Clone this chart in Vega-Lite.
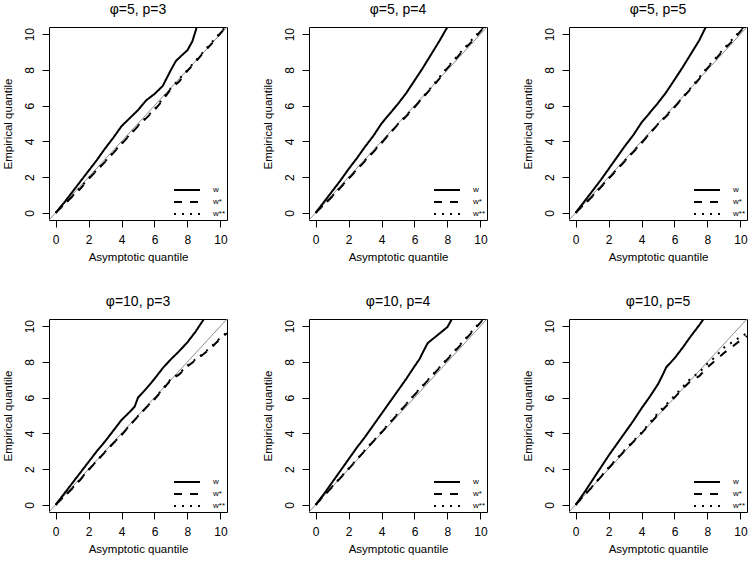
{
"$schema":"https://vega.github.io/schema/vega-lite/v6.json",
"padding":{"left":1,"top":2,"right":0,"bottom":0},
"datasets":{
"diag":[{"x":-0.4,"y":-0.4},{"x":10.4,"y":10.4}],
"q":[
{"p":"A","s":"w","x":0,"y":0},{"p":"A","s":"w","x":0.5,"y":0.55},{"p":"A","s":"w","x":1,"y":1.15},{"p":"A","s":"w","x":1.5,"y":1.75},{"p":"A","s":"w","x":2,"y":2.35},{"p":"A","s":"w","x":2.5,"y":2.95},{"p":"A","s":"w","x":3,"y":3.6},{"p":"A","s":"w","x":3.5,"y":4.2},{"p":"A","s":"w","x":4,"y":4.85},{"p":"A","s":"w","x":4.5,"y":5.3},{"p":"A","s":"w","x":5,"y":5.75},{"p":"A","s":"w","x":5.5,"y":6.3},{"p":"A","s":"w","x":6,"y":6.65},{"p":"A","s":"w","x":6.5,"y":7.1},{"p":"A","s":"w","x":7,"y":8.0},{"p":"A","s":"w","x":7.3,"y":8.5},{"p":"A","s":"w","x":7.7,"y":8.85},{"p":"A","s":"w","x":8,"y":9.1},{"p":"A","s":"w","x":8.3,"y":9.6},{"p":"A","s":"w","x":8.6,"y":10.5},
{"p":"A","s":"w*","x":0,"y":0},{"p":"A","s":"w*","x":0.5,"y":0.45},{"p":"A","s":"w*","x":1,"y":0.9},{"p":"A","s":"w*","x":1.5,"y":1.35},{"p":"A","s":"w*","x":2,"y":1.9},{"p":"A","s":"w*","x":3,"y":2.85},{"p":"A","s":"w*","x":4,"y":3.85},{"p":"A","s":"w*","x":5,"y":4.85},{"p":"A","s":"w*","x":5.5,"y":5.3},{"p":"A","s":"w*","x":6,"y":5.75},{"p":"A","s":"w*","x":6.5,"y":6.3},{"p":"A","s":"w*","x":7,"y":6.95},{"p":"A","s":"w*","x":7.5,"y":7.35},{"p":"A","s":"w*","x":8,"y":7.95},{"p":"A","s":"w*","x":8.5,"y":8.45},{"p":"A","s":"w*","x":9,"y":9.0},{"p":"A","s":"w*","x":9.5,"y":9.5},{"p":"A","s":"w*","x":10,"y":10.05},{"p":"A","s":"w*","x":10.4,"y":10.45},
{"p":"A","s":"w**","x":0,"y":0},{"p":"A","s":"w**","x":1,"y":0.92},{"p":"A","s":"w**","x":2,"y":1.92},{"p":"A","s":"w**","x":3,"y":2.88},{"p":"A","s":"w**","x":4,"y":3.88},{"p":"A","s":"w**","x":5,"y":4.88},{"p":"A","s":"w**","x":6,"y":5.8},{"p":"A","s":"w**","x":7,"y":6.98},{"p":"A","s":"w**","x":8,"y":8.0},{"p":"A","s":"w**","x":9,"y":9.05},{"p":"A","s":"w**","x":10,"y":10.1},{"p":"A","s":"w**","x":10.4,"y":10.5},
{"p":"B","s":"w","x":0,"y":0},{"p":"B","s":"w","x":0.5,"y":0.6},{"p":"B","s":"w","x":1,"y":1.2},{"p":"B","s":"w","x":1.5,"y":1.8},{"p":"B","s":"w","x":2,"y":2.45},{"p":"B","s":"w","x":2.5,"y":3.05},{"p":"B","s":"w","x":3,"y":3.7},{"p":"B","s":"w","x":3.5,"y":4.3},{"p":"B","s":"w","x":4,"y":5.0},{"p":"B","s":"w","x":4.5,"y":5.55},{"p":"B","s":"w","x":5,"y":6.1},{"p":"B","s":"w","x":5.5,"y":6.7},{"p":"B","s":"w","x":6,"y":7.4},{"p":"B","s":"w","x":6.5,"y":8.1},{"p":"B","s":"w","x":7,"y":8.85},{"p":"B","s":"w","x":7.5,"y":9.6},{"p":"B","s":"w","x":8,"y":10.4},{"p":"B","s":"w","x":8.2,"y":10.7},
{"p":"B","s":"w*","x":0,"y":0},{"p":"B","s":"w*","x":0.5,"y":0.45},{"p":"B","s":"w*","x":1,"y":0.9},{"p":"B","s":"w*","x":1.5,"y":1.4},{"p":"B","s":"w*","x":2,"y":1.9},{"p":"B","s":"w*","x":2.5,"y":2.4},{"p":"B","s":"w*","x":3,"y":2.9},{"p":"B","s":"w*","x":3.5,"y":3.4},{"p":"B","s":"w*","x":4,"y":3.9},{"p":"B","s":"w*","x":4.5,"y":4.45},{"p":"B","s":"w*","x":5,"y":4.95},{"p":"B","s":"w*","x":5.5,"y":5.4},{"p":"B","s":"w*","x":6,"y":5.9},{"p":"B","s":"w*","x":6.5,"y":6.45},{"p":"B","s":"w*","x":7,"y":6.95},{"p":"B","s":"w*","x":7.5,"y":7.5},{"p":"B","s":"w*","x":8,"y":8.1},{"p":"B","s":"w*","x":8.5,"y":8.6},{"p":"B","s":"w*","x":9,"y":9.15},{"p":"B","s":"w*","x":9.5,"y":9.6},{"p":"B","s":"w*","x":10,"y":10.15},{"p":"B","s":"w*","x":10.4,"y":10.6},
{"p":"B","s":"w**","x":0,"y":0},{"p":"B","s":"w**","x":1,"y":0.92},{"p":"B","s":"w**","x":2,"y":1.93},{"p":"B","s":"w**","x":3,"y":2.93},{"p":"B","s":"w**","x":4,"y":3.93},{"p":"B","s":"w**","x":5,"y":4.97},{"p":"B","s":"w**","x":6,"y":5.93},{"p":"B","s":"w**","x":7,"y":7.0},{"p":"B","s":"w**","x":8,"y":8.15},{"p":"B","s":"w**","x":9,"y":9.2},{"p":"B","s":"w**","x":10,"y":10.2},{"p":"B","s":"w**","x":10.4,"y":10.62},
{"p":"C","s":"w","x":0,"y":0},{"p":"C","s":"w","x":0.5,"y":0.6},{"p":"C","s":"w","x":1,"y":1.2},{"p":"C","s":"w","x":1.5,"y":1.8},{"p":"C","s":"w","x":2,"y":2.45},{"p":"C","s":"w","x":2.5,"y":3.1},{"p":"C","s":"w","x":3,"y":3.75},{"p":"C","s":"w","x":3.5,"y":4.35},{"p":"C","s":"w","x":4,"y":5.05},{"p":"C","s":"w","x":4.5,"y":5.6},{"p":"C","s":"w","x":5,"y":6.15},{"p":"C","s":"w","x":5.5,"y":6.75},{"p":"C","s":"w","x":6,"y":7.45},{"p":"C","s":"w","x":6.5,"y":8.15},{"p":"C","s":"w","x":7,"y":8.9},{"p":"C","s":"w","x":7.5,"y":9.65},{"p":"C","s":"w","x":7.9,"y":10.4},{"p":"C","s":"w","x":8.1,"y":10.7},
{"p":"C","s":"w*","x":0,"y":0},{"p":"C","s":"w*","x":0.5,"y":0.45},{"p":"C","s":"w*","x":1,"y":0.9},{"p":"C","s":"w*","x":1.5,"y":1.4},{"p":"C","s":"w*","x":2,"y":1.9},{"p":"C","s":"w*","x":2.5,"y":2.4},{"p":"C","s":"w*","x":3,"y":2.9},{"p":"C","s":"w*","x":3.5,"y":3.4},{"p":"C","s":"w*","x":4,"y":3.9},{"p":"C","s":"w*","x":4.5,"y":4.45},{"p":"C","s":"w*","x":5,"y":4.95},{"p":"C","s":"w*","x":5.5,"y":5.4},{"p":"C","s":"w*","x":6,"y":5.9},{"p":"C","s":"w*","x":6.5,"y":6.45},{"p":"C","s":"w*","x":7,"y":6.95},{"p":"C","s":"w*","x":7.5,"y":7.5},{"p":"C","s":"w*","x":8,"y":8.1},{"p":"C","s":"w*","x":8.5,"y":8.6},{"p":"C","s":"w*","x":9,"y":9.15},{"p":"C","s":"w*","x":9.5,"y":9.6},{"p":"C","s":"w*","x":10,"y":10.15},{"p":"C","s":"w*","x":10.4,"y":10.6},
{"p":"C","s":"w**","x":0,"y":0},{"p":"C","s":"w**","x":1,"y":0.92},{"p":"C","s":"w**","x":2,"y":1.93},{"p":"C","s":"w**","x":3,"y":2.93},{"p":"C","s":"w**","x":4,"y":3.93},{"p":"C","s":"w**","x":5,"y":4.97},{"p":"C","s":"w**","x":6,"y":5.93},{"p":"C","s":"w**","x":7,"y":7.0},{"p":"C","s":"w**","x":8,"y":8.15},{"p":"C","s":"w**","x":9,"y":9.2},{"p":"C","s":"w**","x":10,"y":10.2},{"p":"C","s":"w**","x":10.4,"y":10.62},
{"p":"D","s":"w","x":0,"y":0},{"p":"D","s":"w","x":0.5,"y":0.6},{"p":"D","s":"w","x":1,"y":1.2},{"p":"D","s":"w","x":1.5,"y":1.8},{"p":"D","s":"w","x":2,"y":2.4},{"p":"D","s":"w","x":2.5,"y":3.0},{"p":"D","s":"w","x":3,"y":3.55},{"p":"D","s":"w","x":3.5,"y":4.15},{"p":"D","s":"w","x":4,"y":4.75},{"p":"D","s":"w","x":4.5,"y":5.2},{"p":"D","s":"w","x":4.8,"y":5.5},{"p":"D","s":"w","x":5,"y":6.0},{"p":"D","s":"w","x":5.5,"y":6.5},{"p":"D","s":"w","x":6,"y":7.05},{"p":"D","s":"w","x":6.5,"y":7.65},{"p":"D","s":"w","x":7,"y":8.15},{"p":"D","s":"w","x":7.5,"y":8.6},{"p":"D","s":"w","x":8,"y":9.1},{"p":"D","s":"w","x":8.5,"y":9.7},{"p":"D","s":"w","x":9,"y":10.4},{"p":"D","s":"w","x":9.2,"y":10.6},
{"p":"D","s":"w*","x":0,"y":0},{"p":"D","s":"w*","x":0.5,"y":0.45},{"p":"D","s":"w*","x":1,"y":0.9},{"p":"D","s":"w*","x":1.5,"y":1.4},{"p":"D","s":"w*","x":2,"y":1.95},{"p":"D","s":"w*","x":2.5,"y":2.45},{"p":"D","s":"w*","x":3,"y":2.95},{"p":"D","s":"w*","x":3.5,"y":3.45},{"p":"D","s":"w*","x":4,"y":3.9},{"p":"D","s":"w*","x":4.5,"y":4.45},{"p":"D","s":"w*","x":5,"y":4.95},{"p":"D","s":"w*","x":5.5,"y":5.45},{"p":"D","s":"w*","x":6,"y":5.9},{"p":"D","s":"w*","x":6.5,"y":6.45},{"p":"D","s":"w*","x":7,"y":7.0},{"p":"D","s":"w*","x":7.5,"y":7.3},{"p":"D","s":"w*","x":8,"y":7.75},{"p":"D","s":"w*","x":8.5,"y":8.1},{"p":"D","s":"w*","x":9,"y":8.45},{"p":"D","s":"w*","x":9.5,"y":8.85},{"p":"D","s":"w*","x":10,"y":9.3},{"p":"D","s":"w*","x":10.4,"y":9.6},
{"p":"D","s":"w**","x":0,"y":0},{"p":"D","s":"w**","x":1,"y":0.92},{"p":"D","s":"w**","x":2,"y":1.97},{"p":"D","s":"w**","x":3,"y":2.97},{"p":"D","s":"w**","x":4,"y":3.93},{"p":"D","s":"w**","x":5,"y":4.97},{"p":"D","s":"w**","x":6,"y":5.93},{"p":"D","s":"w**","x":7,"y":7.05},{"p":"D","s":"w**","x":7.5,"y":7.35},{"p":"D","s":"w**","x":8,"y":7.8},{"p":"D","s":"w**","x":8.5,"y":8.15},{"p":"D","s":"w**","x":9,"y":8.5},{"p":"D","s":"w**","x":9.5,"y":8.9},{"p":"D","s":"w**","x":10,"y":9.35},{"p":"D","s":"w**","x":10.4,"y":9.65},
{"p":"E","s":"w","x":0,"y":0},{"p":"E","s":"w","x":0.5,"y":0.6},{"p":"E","s":"w","x":1,"y":1.25},{"p":"E","s":"w","x":1.5,"y":1.9},{"p":"E","s":"w","x":2,"y":2.55},{"p":"E","s":"w","x":2.5,"y":3.2},{"p":"E","s":"w","x":3,"y":3.8},{"p":"E","s":"w","x":3.5,"y":4.45},{"p":"E","s":"w","x":4,"y":5.1},{"p":"E","s":"w","x":4.5,"y":5.75},{"p":"E","s":"w","x":5,"y":6.4},{"p":"E","s":"w","x":5.5,"y":7.05},{"p":"E","s":"w","x":6,"y":7.75},{"p":"E","s":"w","x":6.3,"y":8.15},{"p":"E","s":"w","x":6.6,"y":8.7},{"p":"E","s":"w","x":6.8,"y":9.05},{"p":"E","s":"w","x":7.2,"y":9.35},{"p":"E","s":"w","x":7.6,"y":9.65},{"p":"E","s":"w","x":8,"y":9.95},{"p":"E","s":"w","x":8.3,"y":10.45},
{"p":"E","s":"w*","x":0,"y":0},{"p":"E","s":"w*","x":0.5,"y":0.5},{"p":"E","s":"w*","x":1,"y":1.0},{"p":"E","s":"w*","x":2,"y":2.0},{"p":"E","s":"w*","x":3,"y":3.05},{"p":"E","s":"w*","x":4,"y":4.05},{"p":"E","s":"w*","x":5,"y":5.1},{"p":"E","s":"w*","x":6,"y":6.15},{"p":"E","s":"w*","x":7,"y":7.15},{"p":"E","s":"w*","x":8,"y":8.15},{"p":"E","s":"w*","x":9,"y":9.15},{"p":"E","s":"w*","x":10,"y":10.2},{"p":"E","s":"w*","x":10.4,"y":10.6},
{"p":"E","s":"w**","x":0,"y":0},{"p":"E","s":"w**","x":1,"y":1.02},{"p":"E","s":"w**","x":2,"y":2.03},{"p":"E","s":"w**","x":3,"y":3.07},{"p":"E","s":"w**","x":4,"y":4.08},{"p":"E","s":"w**","x":5,"y":5.12},{"p":"E","s":"w**","x":6,"y":6.18},{"p":"E","s":"w**","x":7,"y":7.18},{"p":"E","s":"w**","x":8,"y":8.18},{"p":"E","s":"w**","x":9,"y":9.2},{"p":"E","s":"w**","x":10,"y":10.25},{"p":"E","s":"w**","x":10.4,"y":10.65},
{"p":"F","s":"w","x":0,"y":0},{"p":"F","s":"w","x":0.5,"y":0.65},{"p":"F","s":"w","x":1,"y":1.35},{"p":"F","s":"w","x":1.5,"y":2.05},{"p":"F","s":"w","x":2,"y":2.75},{"p":"F","s":"w","x":2.5,"y":3.4},{"p":"F","s":"w","x":3,"y":4.05},{"p":"F","s":"w","x":3.5,"y":4.7},{"p":"F","s":"w","x":4,"y":5.4},{"p":"F","s":"w","x":4.5,"y":6.05},{"p":"F","s":"w","x":5,"y":6.75},{"p":"F","s":"w","x":5.3,"y":7.3},{"p":"F","s":"w","x":5.5,"y":7.7},{"p":"F","s":"w","x":6,"y":8.2},{"p":"F","s":"w","x":6.5,"y":8.8},{"p":"F","s":"w","x":7,"y":9.45},{"p":"F","s":"w","x":7.5,"y":10.05},{"p":"F","s":"w","x":7.8,"y":10.45},
{"p":"F","s":"w*","x":0,"y":0},{"p":"F","s":"w*","x":0.5,"y":0.5},{"p":"F","s":"w*","x":1,"y":1.0},{"p":"F","s":"w*","x":2,"y":2.05},{"p":"F","s":"w*","x":3,"y":3.05},{"p":"F","s":"w*","x":4,"y":4.0},{"p":"F","s":"w*","x":5,"y":5.05},{"p":"F","s":"w*","x":6,"y":6.0},{"p":"F","s":"w*","x":6.5,"y":6.5},{"p":"F","s":"w*","x":7,"y":6.95},{"p":"F","s":"w*","x":7.5,"y":7.2},{"p":"F","s":"w*","x":8,"y":7.7},{"p":"F","s":"w*","x":8.5,"y":8.1},{"p":"F","s":"w*","x":9,"y":8.5},{"p":"F","s":"w*","x":9.5,"y":8.85},{"p":"F","s":"w*","x":10,"y":9.2},{"p":"F","s":"w*","x":10.4,"y":9.45},
{"p":"F","s":"w**","x":0,"y":0},{"p":"F","s":"w**","x":1,"y":1.02},{"p":"F","s":"w**","x":2,"y":2.08},{"p":"F","s":"w**","x":3,"y":3.1},{"p":"F","s":"w**","x":4,"y":4.05},{"p":"F","s":"w**","x":5,"y":5.15},{"p":"F","s":"w**","x":6,"y":6.1},{"p":"F","s":"w**","x":6.5,"y":6.6},{"p":"F","s":"w**","x":7,"y":7.1},{"p":"F","s":"w**","x":7.5,"y":7.4},{"p":"F","s":"w**","x":8,"y":7.9},{"p":"F","s":"w**","x":8.5,"y":8.3},{"p":"F","s":"w**","x":9,"y":8.8},{"p":"F","s":"w**","x":9.5,"y":9.1},{"p":"F","s":"w**","x":10,"y":9.4},{"p":"F","s":"w**","x":10.4,"y":9.6}
]},
"columns":3,
"spacing":{"row":99,"column":82},
"bounds":"flush",
"resolve":{"scale":{"x":"independent","y":"independent","strokeDash":"independent"},"legend":{"strokeDash":"independent"}},
"config":{
"font":"Liberation Sans",
"view":{"stroke":"black","strokeWidth":1},
"axis":{"grid":false,"domain":false,"tickColor":"black","tickSize":7,"labelFontSize":12,"labelColor":"black","titleFontSize":11.5,"titleFontWeight":"normal","titleColor":"black"},
"axisX":{"labelPadding":7,"titlePadding":6},
"axisY":{"labelAngle":-90,"labelAlign":"center","labelBaseline":"bottom","labelPadding":6,"titlePadding":10},
"title":{"fontSize":14,"fontWeight":"normal","color":"black","offset":10},
"legend":{"orient":"bottom-right","offset":1,"symbolType":"stroke","symbolSize":676,"symbolStrokeWidth":2,"symbolStrokeColor":"black","labelFontSize":8,"labelColor":"black","labelOffset":12,"clipHeight":10,"rowPadding":2,"padding":0}
},
"concat":[
{"title":"φ=5, p=3","width":178,"height":193,
"encoding":{"x":{"field":"x","type":"quantitative","scale":{"domain":[-0.4,10.4],"nice":false,"zero":false},"axis":{"title":"Asymptotic quantile","values":[0,2,4,6,8,10]}},"y":{"field":"y","type":"quantitative","scale":{"domain":[-0.4,10.4],"nice":false,"zero":false},"axis":{"title":"Empirical quantile","values":[0,2,4,6,8,10]}}},
"layer":[
{"data":{"name":"diag"},"mark":{"type":"line","stroke":"#707070","strokeWidth":0.8,"clip":true}},
{"data":{"name":"q"},"transform":[{"filter":"datum.p=='A'"}],"mark":{"type":"line","stroke":"black","strokeWidth":2,"clip":true},"encoding":{"strokeDash":{"field":"s","type":"nominal","scale":{"domain":["w","w*","w**"],"range":[[1,0],[8,8],[2,6]]},"legend":{"title":null}}}}
]},
{"title":"φ=5, p=4","width":178,"height":193,
"encoding":{"x":{"field":"x","type":"quantitative","scale":{"domain":[-0.4,10.4],"nice":false,"zero":false},"axis":{"title":"Asymptotic quantile","values":[0,2,4,6,8,10]}},"y":{"field":"y","type":"quantitative","scale":{"domain":[-0.4,10.4],"nice":false,"zero":false},"axis":{"title":"Empirical quantile","values":[0,2,4,6,8,10]}}},
"layer":[
{"data":{"name":"diag"},"mark":{"type":"line","stroke":"#707070","strokeWidth":0.8,"clip":true}},
{"data":{"name":"q"},"transform":[{"filter":"datum.p=='B'"}],"mark":{"type":"line","stroke":"black","strokeWidth":2,"clip":true},"encoding":{"strokeDash":{"field":"s","type":"nominal","scale":{"domain":["w","w*","w**"],"range":[[1,0],[8,8],[2,6]]},"legend":{"title":null}}}}
]},
{"title":"φ=5, p=5","width":178,"height":193,
"encoding":{"x":{"field":"x","type":"quantitative","scale":{"domain":[-0.4,10.4],"nice":false,"zero":false},"axis":{"title":"Asymptotic quantile","values":[0,2,4,6,8,10]}},"y":{"field":"y","type":"quantitative","scale":{"domain":[-0.4,10.4],"nice":false,"zero":false},"axis":{"title":"Empirical quantile","values":[0,2,4,6,8,10]}}},
"layer":[
{"data":{"name":"diag"},"mark":{"type":"line","stroke":"#707070","strokeWidth":0.8,"clip":true}},
{"data":{"name":"q"},"transform":[{"filter":"datum.p=='C'"}],"mark":{"type":"line","stroke":"black","strokeWidth":2,"clip":true},"encoding":{"strokeDash":{"field":"s","type":"nominal","scale":{"domain":["w","w*","w**"],"range":[[1,0],[8,8],[2,6]]},"legend":{"title":null}}}}
]},
{"title":"φ=10, p=3","width":178,"height":193,
"encoding":{"x":{"field":"x","type":"quantitative","scale":{"domain":[-0.4,10.4],"nice":false,"zero":false},"axis":{"title":"Asymptotic quantile","values":[0,2,4,6,8,10]}},"y":{"field":"y","type":"quantitative","scale":{"domain":[-0.4,10.4],"nice":false,"zero":false},"axis":{"title":"Empirical quantile","values":[0,2,4,6,8,10]}}},
"layer":[
{"data":{"name":"diag"},"mark":{"type":"line","stroke":"#707070","strokeWidth":0.8,"clip":true}},
{"data":{"name":"q"},"transform":[{"filter":"datum.p=='D'"}],"mark":{"type":"line","stroke":"black","strokeWidth":2,"clip":true},"encoding":{"strokeDash":{"field":"s","type":"nominal","scale":{"domain":["w","w*","w**"],"range":[[1,0],[8,8],[2,6]]},"legend":{"title":null}}}}
]},
{"title":"φ=10, p=4","width":178,"height":193,
"encoding":{"x":{"field":"x","type":"quantitative","scale":{"domain":[-0.4,10.4],"nice":false,"zero":false},"axis":{"title":"Asymptotic quantile","values":[0,2,4,6,8,10]}},"y":{"field":"y","type":"quantitative","scale":{"domain":[-0.4,10.4],"nice":false,"zero":false},"axis":{"title":"Empirical quantile","values":[0,2,4,6,8,10]}}},
"layer":[
{"data":{"name":"diag"},"mark":{"type":"line","stroke":"#707070","strokeWidth":0.8,"clip":true}},
{"data":{"name":"q"},"transform":[{"filter":"datum.p=='E'"}],"mark":{"type":"line","stroke":"black","strokeWidth":2,"clip":true},"encoding":{"strokeDash":{"field":"s","type":"nominal","scale":{"domain":["w","w*","w**"],"range":[[1,0],[8,8],[2,6]]},"legend":{"title":null}}}}
]},
{"title":"φ=10, p=5","width":178,"height":193,
"encoding":{"x":{"field":"x","type":"quantitative","scale":{"domain":[-0.4,10.4],"nice":false,"zero":false},"axis":{"title":"Asymptotic quantile","values":[0,2,4,6,8,10]}},"y":{"field":"y","type":"quantitative","scale":{"domain":[-0.4,10.4],"nice":false,"zero":false},"axis":{"title":"Empirical quantile","values":[0,2,4,6,8,10]}}},
"layer":[
{"data":{"name":"diag"},"mark":{"type":"line","stroke":"#707070","strokeWidth":0.8,"clip":true}},
{"data":{"name":"q"},"transform":[{"filter":"datum.p=='F'"}],"mark":{"type":"line","stroke":"black","strokeWidth":2,"clip":true},"encoding":{"strokeDash":{"field":"s","type":"nominal","scale":{"domain":["w","w*","w**"],"range":[[1,0],[8,8],[2,6]]},"legend":{"title":null}}}}
]}
]
}
